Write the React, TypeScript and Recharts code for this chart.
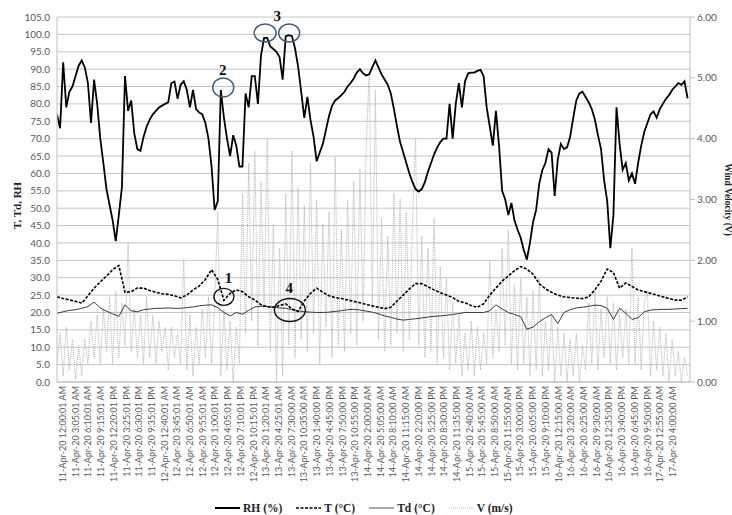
import React from 'react';
import { ComposedChart, Line, XAxis, YAxis, CartesianGrid, ReferenceDot } from 'recharts';

// one label every 3h05 (37 five-minute records)
const timeLabels = [
  '11-Apr-20 12:00:01 AM', '11-Apr-20 3:05:01 AM', '11-Apr-20 6:10:01 AM', '11-Apr-20 9:15:01 AM',
  '11-Apr-20 12:20:01 PM', '11-Apr-20 3:25:01 PM', '11-Apr-20 6:30:01 PM', '11-Apr-20 9:35:01 PM',
  '12-Apr-20 12:40:01 AM', '12-Apr-20 3:45:01 AM', '12-Apr-20 6:50:01 AM', '12-Apr-20 9:55:01 AM',
  '12-Apr-20 1:00:01 PM', '12-Apr-20 4:05:01 PM', '12-Apr-20 7:10:01 PM', '12-Apr-20 10:15:01 PM',
  '13-Apr-20 1:20:01 AM', '13-Apr-20 4:25:01 AM', '13-Apr-20 7:30:00 AM', '13-Apr-20 10:35:00 AM',
  '13-Apr-20 1:40:00 PM', '13-Apr-20 4:45:00 PM', '13-Apr-20 7:50:00 PM', '13-Apr-20 10:55:00 PM',
  '14-Apr-20 2:00:00 AM', '14-Apr-20 5:05:00 AM', '14-Apr-20 8:10:00 AM', '14-Apr-20 11:15:00 AM',
  '14-Apr-20 2:20:00 PM', '14-Apr-20 5:25:00 PM', '14-Apr-20 8:30:00 PM', '14-Apr-20 11:35:00 PM',
  '15-Apr-20 2:40:00 AM', '15-Apr-20 5:45:00 AM', '15-Apr-20 8:50:00 AM', '15-Apr-20 11:55:00 AM',
  '15-Apr-20 3:00:00 PM', '15-Apr-20 6:05:00 PM', '15-Apr-20 9:10:00 PM', '16-Apr-20 12:15:00 AM',
  '16-Apr-20 3:20:00 AM', '16-Apr-20 6:25:00 AM', '16-Apr-20 9:30:00 AM', '16-Apr-20 12:35:00 PM',
  '16-Apr-20 3:40:00 PM', '16-Apr-20 6:45:00 PM', '16-Apr-20 9:50:00 PM', '17-Apr-20 12:55:00 AM',
  '17-Apr-20 4:00:00 AM',
];

// RH (%) read every 9 records
const rh = [
  77, 73, 92, 79, 83.5, 85, 88, 91, 92.5, 90.5,
  86, 74.5, 87, 80, 70, 63, 55.5, 51, 46.5, 40.5,
  48, 56, 88, 78, 81, 71.5, 67, 66.5, 70.5, 73.5,
  75.5, 77, 78, 79, 79.5, 80, 80.5, 86, 86.4, 81.5,
  85.5, 86.5, 84, 79, 84, 78.5, 77.5, 77, 74.5, 70,
  62, 49.5, 52, 84, 76, 70, 65, 71, 68, 62,
  62, 83, 79, 88, 88, 80, 94, 99, 99, 96.5,
  95.8, 95, 93.5, 87, 99.5, 99.8, 99.5, 96, 90.7, 83.5,
  76, 82, 75.4, 70.5, 63.5, 66, 68.5, 72.5, 76.5, 79.5,
  81, 81.7, 82.5, 83.5, 85, 86, 87.3, 89, 90, 88.8,
  88.2, 88.5, 90.5, 92.5, 90.5, 88.5, 87, 85.5, 83, 78.5,
  73.5, 69, 66, 63, 60, 57.5, 55.5, 54.8, 55.5, 57.5,
  60.5, 63, 65.5, 67.5, 69, 70, 70, 80, 70, 80,
  86, 79, 86.5, 88.8, 89, 89, 89.5, 89.8, 88, 79,
  73.5, 68, 78, 68, 55, 52.5, 48, 51.5, 46.5, 43.8,
  41.5, 38, 35.2, 40, 46, 49.5, 57, 61, 63, 67,
  66, 53.5, 64, 68.5, 67, 67.5, 70.5, 76, 81, 83,
  83.5, 82, 80.5, 78.5, 75.5, 71, 67, 58, 52, 38.5,
  48, 79, 68.5, 61, 63, 58, 60, 57, 63, 68,
  72, 74.5, 77, 77.8, 76, 78.5, 80, 81.5, 82.5, 84,
  85, 86, 85.5, 86.5, 81.6,
];

// V (m/s) read every 9 records
const windV = [
  0.3, 0.8, 0.1, 0.9, 0.2, 0.7, 0.05, 0.6, 0.1, 0.7,
  0.3, 1.0, 0.4, 1.1, 0.3, 1.2, 0.5, 1.4, 0.3, 1.5,
  0.4, 1.3, 0.6, 2.3, 0.5, 1.2, 0.4, 1.1, 0.3, 1.4,
  0.4, 1.1, 0.3, 1.0, 0.5, 0.9, 0.2, 0.9, 0.4, 0.8,
  0.3, 2.0, 0.2, 1.1, 0.1, 0.9, 0.3, 1.2, 0.4, 1.4,
  0.3, 1.3, 2.8, 0.1, 1.2, 0.2, 1.0, 0.0, 0.9, 0.3,
  3.1, 0.8, 3.6, 1.0, 3.8, 0.6, 3.3, 1.2, 4.0, 0.5,
  2.6, 0.0, 2.2, 0.1, 3.1, 0.6, 3.8, 0.4, 3.2, 0.7,
  2.9, 0.5, 3.6, 0.8, 3.0, 0.3, 2.6, 0.9, 2.8, 0.4,
  3.7, 0.6, 2.5, 0.5, 3.0, 0.8, 3.3, 0.6, 3.5, 1.0,
  3.8, 5.1, 1.2, 4.8, 0.7, 2.7, 0.5, 2.4, 0.6, 3.1,
  0.8, 3.0, 0.5, 2.8, 0.7, 2.6, 4.0, 0.6, 2.4, 0.4,
  2.2, 0.5, 2.7, 0.3, 1.9, 0.4, 1.7, 0.2, 1.3, 0.3,
  1.1, 0.1, 0.8, 0.2, 1.0, 0.1, 0.9, 0.2, 0.8, 0.3,
  2.0, 0.4, 1.2, 0.5, 2.2, 0.6, 2.5, 0.3, 1.6, 0.2,
  1.7, 0.3, 1.4, 0.1, 1.5, 0.2, 1.7, 0.1, 1.0, 0.2,
  1.1, 0.0, 0.9, 0.1, 0.8, 0.0, 0.7, 0.1, 0.8, 0.0,
  0.6, 0.2, 1.3, 0.3, 1.5, 0.2, 1.2, 0.4, 1.4, 0.3,
  1.3, 0.2, 1.1, 0.4, 1.2, 0.3, 2.2, 0.3, 1.4, 0.2,
  1.3, 1.5, 0.1, 1.0, 0.2, 0.9, 0.1, 0.8, 0.0, 0.7,
  0.1, 0.5, 0.0, 0.4, 0.1,
];

// T (°C) read every 18 records
const temp = [
  24.5, 24, 23.6, 23.2, 22.7, 24.8, 27, 28.8, 30.5, 32.3,
  33.5, 25.8, 26, 27, 27, 26.3, 25.8, 25.4, 25.2, 24.8,
  24.2, 25, 26.5, 27.6, 29.5, 32.3, 29.5, 23.5, 25.5, 26.5,
  26, 24.5, 23.6, 22.2, 21.7, 21.5, 22, 22.5, 21, 20.3,
  23.3, 25.5, 27, 25.8, 24.8, 24.3, 24, 23.6, 23.2, 22.8,
  22.3, 21.9, 21.5, 21.1, 21.5, 23.3, 25, 26.8, 28.3, 28.3,
  27.4, 26.5, 25.7, 25, 24.3, 23.2, 22.8, 22, 21.5, 22.5,
  25, 27, 29, 30.5, 32, 33.2, 32.5, 31, 28.3, 26.8,
  25.8, 25, 24.5, 24.3, 24.1, 24, 24.5, 26.5, 29, 32.5,
  31.5, 27, 28.5, 27.5, 26.5, 26, 25.5, 25, 24.5, 24,
  23.6, 23.5, 24.5,
];

// Td (°C) read every 18 records
const dewPoint = [
  19.8, 20.2, 20.6, 20.8, 21.2, 21.7, 23, 21.3, 20.4, 19.6,
  18.9, 22.2, 20.5, 20.2, 20.8, 21, 21.2, 21.2, 21.3, 21.2,
  21.2, 21.4, 21.6, 21.9, 22.1, 22.2, 21.4, 20, 19, 20,
  19.5, 20.6, 21.6, 21.8, 21.7, 21.5, 21.3, 21.2, 20.8, 20.5,
  20.2, 20.1, 20, 20, 20.1, 20.3, 20.5, 20.8, 20.9, 20.7,
  20.4, 20.1, 19.6, 19, 18.6, 18.1, 17.8, 18, 18.2, 18.4,
  18.7, 18.9, 19, 19.2, 19.4, 19.7, 20, 20, 20, 20,
  20.5, 22.2, 21, 20, 19.4, 18.8, 15.2, 15.8, 17.3, 18.5,
  19.4, 16.8, 20, 20.8, 21.3, 21.5, 21.8, 22.1, 22, 21.2,
  18, 21.2, 19.8, 18, 18.5, 20.2, 20.7, 20.8, 20.9, 20.9,
  21, 21.1, 21.2,
];

// circled events, in record index / axis value
const events = [
  { id: '1', s: 469, value: 24.5 },
  { id: '2', s: 467, value: 84.7 },
  { id: '3', s: 589, value: 100.4 },
  { id: '3b', s: 659, value: 100.4 },
  { id: '4', s: 661, value: 20.7 },
];

const START = -17;
const END = 1826;
const FINE = 9;
const LABEL_STEP = 37;

const data = rh.map((value, i) => ({
  s: START + i * FINE,
  rh: value,
  v: windV[i],
  t: i % 2 === 0 ? temp[i / 2] : null,
  td: i % 2 === 0 ? dewPoint[i / 2] : null,
}));

const xTicks = timeLabels.map((_, k) => k * LABEL_STEP);
const leftTicks = Array.from({ length: 22 }, (_, k) => k * 5);
const rightTicks = [0, 1, 2, 3, 4, 5, 6];

const BLUE = '#3b5785';
const serif = '"Liberation Serif", "Times New Roman", serif';
const sans = 'Lato, "Open Sans", sans-serif';

const eventStyle: Record<string, { rx: number; ry: number; color: string; label?: string; dx: number; dy: number }> = {
  '1': { rx: 10, ry: 8.5, color: '#111', label: '1', dx: 4.5, dy: -13.5 },
  '2': { rx: 10.5, ry: 9.5, color: BLUE, label: '2', dx: -0.5, dy: -12.5 },
  '3': { rx: 11, ry: 9, color: BLUE, label: '3', dx: 12, dy: -12 },
  '3b': { rx: 10.5, ry: 9, color: BLUE, dx: 0, dy: 0 },
  '4': { rx: 15.5, ry: 11.5, color: '#111', label: '4', dx: -0.5, dy: -17 },
};

function EventMark(props: any) {
  const { cx, cy, id } = props;
  const st = eventStyle[id];
  if (cx == null || cy == null) return null;
  return (
    <g>
      <ellipse cx={cx} cy={cy} rx={st.rx} ry={st.ry} fill="none" stroke={st.color} strokeWidth={1.4} />
      {st.label && (
        <text x={cx + st.dx} y={cy + st.dy} textAnchor="middle" fontFamily={serif} fontWeight="bold" fontSize={15} fill="#111">
          {st.label}
        </text>
      )}
    </g>
  );
}

function TimeTick({ x, y, payload }: any) {
  const label = timeLabels[Math.round(payload.value / LABEL_STEP)];
  return (
    <text x={x} y={y} dy="0.35em" transform={`rotate(-90, ${x}, ${y})`} textAnchor="end" fontSize={9} fontFamily={sans} fill="#595959">
      {label}
    </text>
  );
}

function LeftTitle({ viewBox }: any) {
  const x = viewBox.x;
  const y = viewBox.y + viewBox.height / 2 + 6;
  return (
    <text x={x} y={y} dy="0.35em" transform={`rotate(-90, ${x}, ${y})`} textAnchor="middle" fontFamily={serif} fontWeight="bold" fontSize={11} fill="#222">
      T, Td, RH
    </text>
  );
}

function RightTitle({ viewBox }: any) {
  const x = viewBox.x + 38;
  const y = viewBox.y + viewBox.height / 2;
  return (
    <text x={x} y={y} dy="0.35em" transform={`rotate(90, ${x}, ${y})`} textAnchor="middle" fontFamily={serif} fontWeight="bold" fontSize={9.5} fill="#222">
      Wind Velocity (V)
    </text>
  );
}

const legendItems = [
  { name: 'RH (%)', stroke: '#000', width: 2, dash: undefined as string | undefined },
  { name: 'T (°C)', stroke: '#000', width: 1.6, dash: '3 1.5' },
  { name: 'Td (°C)', stroke: '#555', width: 1, dash: undefined },
  { name: 'V (m/s)', stroke: '#bbb', width: 1, dash: '1 1' },
];

function LegendRow() {
  return (
    <div style={{ position: 'absolute', left: 215, top: 500, display: 'flex', alignItems: 'center', fontFamily: serif, fontWeight: 'bold', fontSize: 11.5, color: '#222', lineHeight: '16px' }}>
      {legendItems.map((it) => (
        <div key={it.name} style={{ display: 'flex', alignItems: 'center', marginRight: 14 }}>
          <svg width={25} height={8} style={{ marginRight: 3 }}>
            <line x1={0} y1={4} x2={25} y2={4} stroke={it.stroke} strokeWidth={it.width} strokeDasharray={it.dash} />
          </svg>
          <span>{it.name}</span>
        </div>
      ))}
    </div>
  );
}

export default function App() {
  return (
    <div style={{ position: 'absolute', left: 0, top: 0, width: 732, height: 515, background: '#fff' }}>
      <ComposedChart width={732} height={515} data={data} margin={{ top: 17, right: 12, bottom: 23, left: 17 }}>
        <CartesianGrid yAxisId="left" vertical={false} stroke="#c4c4c4" />
        <XAxis
          dataKey="s"
          type="number"
          domain={[START, END]}
          allowDataOverflow
          ticks={xTicks}
          interval={0}
          height={110}
          tick={<TimeTick />}
          tickLine={false}
          tickSize={2}
          tickMargin={2}
          axisLine={{ stroke: '#bfbfbf' }}
        />
        <YAxis
          yAxisId="left"
          domain={[0, 105]}
          ticks={leftTicks}
          interval={0}
          width={40}
          tickFormatter={(v: number) => v.toFixed(1)}
          tick={{ fontSize: 10, fontFamily: sans, fill: '#595959' }}
          tickLine={false}
          tickSize={5}
          tickMargin={2}
          axisLine={{ stroke: '#bfbfbf' }}
          label={<LeftTitle />}
        />
        <YAxis
          yAxisId="right"
          orientation="right"
          domain={[0, 6]}
          ticks={rightTicks}
          interval={0}
          width={30}
          tickFormatter={(v: number) => v.toFixed(2)}
          tick={{ fontSize: 10, fontFamily: sans, fill: '#595959' }}
          tickLine={{ stroke: '#bfbfbf' }}
          tickSize={5}
          tickMargin={2}
          axisLine={{ stroke: '#bfbfbf' }}
          label={<RightTitle />}
        />
        <Line yAxisId="right" dataKey="v" type="linear" stroke="#b5b5b5" strokeWidth={1} strokeDasharray="1 1" dot={false} activeDot={false} isAnimationActive={false} />
        <Line yAxisId="left" dataKey="td" type="linear" stroke="#3a3a3a" strokeWidth={1} dot={false} activeDot={false} connectNulls isAnimationActive={false} />
        <Line yAxisId="left" dataKey="t" type="linear" stroke="#000" strokeWidth={1.6} strokeDasharray="3 1.5" dot={false} activeDot={false} connectNulls isAnimationActive={false} />
        <Line yAxisId="left" dataKey="rh" type="linear" stroke="#000" strokeWidth={1.8} dot={false} activeDot={false} isAnimationActive={false} />
        {events.map((e) => (
          <ReferenceDot key={e.id} yAxisId="left" x={e.s} y={e.value} r={0} shape={(p: any) => <EventMark {...p} id={e.id} />} />
        ))}
      </ComposedChart>
      <LegendRow />
    </div>
  );
}
